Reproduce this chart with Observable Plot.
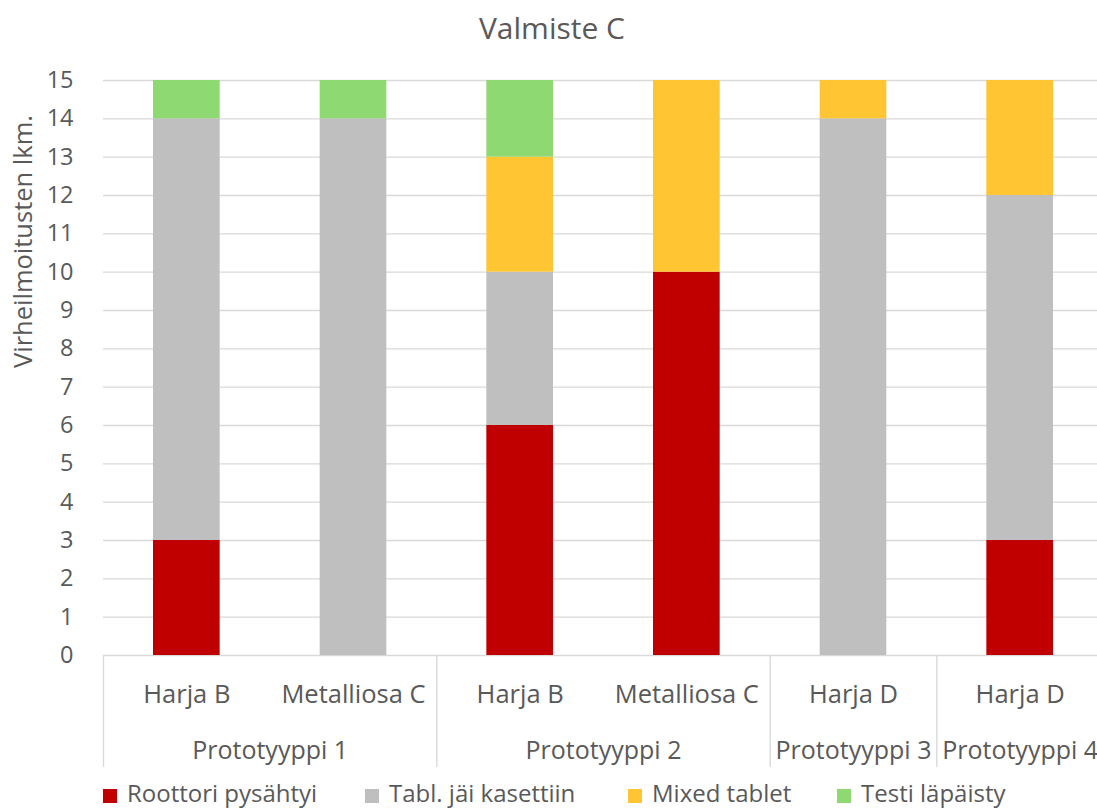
<!DOCTYPE html>
<html>
<head>
<meta charset="utf-8">
<script src="https://cdn.jsdelivr.net/npm/d3@7"></script>
<script src="https://cdn.jsdelivr.net/npm/@observablehq/plot@0.6"></script>
<style>
  html, body { margin: 0; padding: 0; background: #fff; }
  #chart {
    position: relative; width: 1097px; height: 812px; overflow: hidden;
    font-family: "Open Sans", sans-serif; color: #595959;
  }
  #chart svg { position: absolute; left: 0; top: 0; }
  #title {
    position: absolute; left: 0; top: 9px; width: 1104px; text-align: center;
    font-size: 30px; line-height: 38px;
  }
  .legend-item {
    position: absolute; top: 778px; font-size: 24px; line-height: 30px;
    display: flex; align-items: center; white-space: nowrap;
  }
  .legend-item span.sw { width: 14px; height: 14px; margin-right: 10px; margin-top: 6px; }
</style>
</head>
<body>
<div id="chart">
  <div id="title">Valmiste C</div>
</div>
<script>
// Categories: prototype group and part for each bar
const groups = ["Prototyyppi 1", "Prototyyppi 1", "Prototyyppi 2", "Prototyyppi 2", "Prototyyppi 3", "Prototyyppi 4"];
const parts = ["Harja B", "Metalliosa C", "Harja B", "Metalliosa C", "Harja D", "Harja D"];

// Error types (stack order, bottom to top) and their colours
const seriesNames = ["Roottori pysähtyi", "Tabl. jäi kasettiin", "Mixed tablet", "Testi läpäisty"];
const seriesColors = ["#c00000", "#bfbfbf", "#ffc532", "#8fd973"];

// Counts per bar for each error type
const roottori = [3, 0, 6, 10, 0, 3];
const tabl = [11, 14, 4, 0, 14, 9];
const mixed = [0, 0, 3, 5, 1, 3];
const testi = [1, 1, 2, 0, 0, 0];

const yTicks = [0, 1, 2, 3, 4, 5, 6, 7, 8, 9, 10, 11, 12, 13, 14, 15];
const yLabel = "Virheilmoitusten lkm.";

// Long-format table for the stacked bars
const seriesValues = [roottori, tabl, mixed, testi];
const rows = [];
parts.forEach((p, i) => {
  seriesNames.forEach((s, k) => {
    rows.push({i, part: p, group: groups[i], series: s, value: seriesValues[k][i]});
  });
});

// Group centres and the boundaries between groups
const groupNames = [...new Set(groups)];
const groupCenters = groupNames.map(g => d3.mean(groups.map((x, i) => x === g ? i : null).filter(v => v !== null)));
const boundaries = [-0.5];
groups.forEach((g, i) => { if (i === groups.length - 1 || groups[i + 1] !== g) boundaries.push(i + 0.5); });

const half = 0.2; // half bar width, as a fraction of the category step
const grid = "#d9d9d9";

const chart = Plot.plot({
  width: 1097,
  height: 812,
  marginTop: 80,
  marginBottom: 157,
  marginLeft: 103,
  marginRight: 0,
  style: {fontFamily: "Open Sans, sans-serif", fontSize: "24px", color: "#595959", background: "transparent"},
  x: {type: "linear", domain: [-0.5, parts.length - 0.5], range: [103, 1103]},
  y: {domain: [0, 15]},
  color: {domain: seriesNames, range: seriesColors},
  marks: [
    Plot.ruleY(yTicks, {stroke: grid, strokeWidth: 1.4}),
    Plot.rectY(rows, Plot.stackY({
      x1: d => d.i - half,
      x2: d => d.i + half,
      y: "value",
      fill: "series",
      order: seriesNames
    })),
    Plot.axisY({ticks: yTicks, tickSize: 0, tickPadding: 30, label: null, fontSize: 23.5}),
    Plot.text([yLabel], {frameAnchor: "left", rotate: -90, dx: -80, fontSize: 25.5, fill: "#595959"}),
    // group dividers under the axis
    Plot.axisX({ticks: boundaries, tickSize: 112, tickFormat: () => "", stroke: grid, strokeWidth: 1.4, label: null}),
    // part names
    Plot.axisX({ticks: d3.range(parts.length), tickSize: 0, tickPadding: 29, tickFormat: i => parts[i], label: null, fontSize: 25.5}),
    // prototype names
    Plot.axisX({ticks: groupCenters, tickSize: 0, tickPadding: 86, tickFormat: (c) => groupNames[groupCenters.indexOf(c)], label: null, fontSize: 25})
  ]
});
document.getElementById("chart").appendChild(chart);

// Legend below the plot
const legendLeft = [103, 365, 628, 837];
seriesNames.forEach((s, k) => {
  const item = document.createElement("div");
  item.className = "legend-item";
  item.style.left = legendLeft[k] + "px";
  const sw = document.createElement("span");
  sw.className = "sw";
  sw.style.background = seriesColors[k];
  const t = document.createElement("span");
  t.textContent = s;
  item.appendChild(sw);
  item.appendChild(t);
  document.getElementById("chart").appendChild(item);
});
</script>
</body>
</html>
